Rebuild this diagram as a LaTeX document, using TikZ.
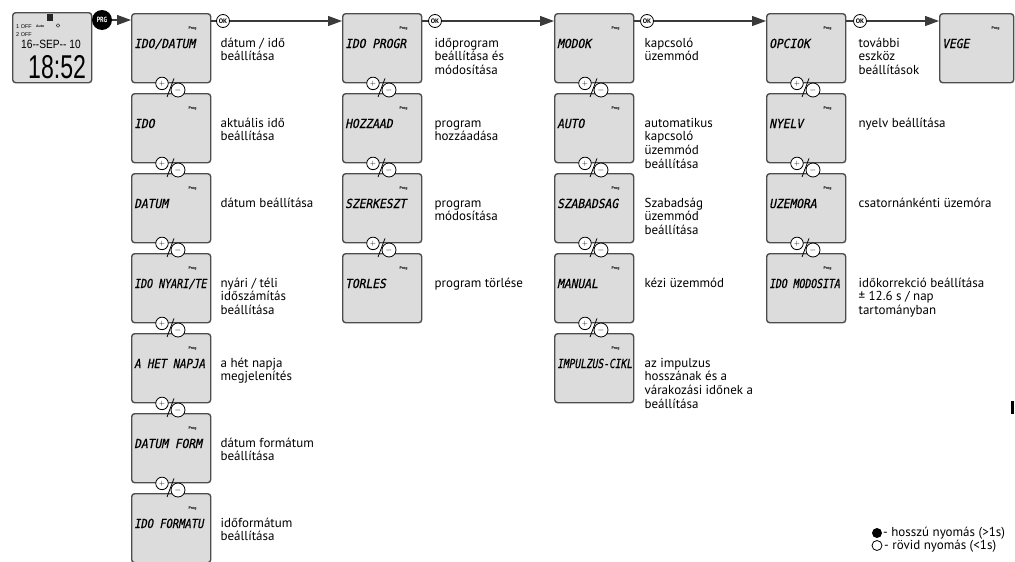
\documentclass[tikz,border=0pt]{standalone}
\usepackage{fontspec}
\setmainfont{PT Sans}
\newfontfamily\lcdfont[FakeSlant=0.2,FakeStretch=0.9,FakeBold=0.6]{DejaVu Sans Mono}
\newfontfamily\dispfont{Liberation Sans}
\usetikzlibrary{arrows.meta,calc}
\definecolor{boxfill}{HTML}{DCDCDC}
\definecolor{boxline}{HTML}{4D4D4D}
\definecolor{linec}{HTML}{3A3A3A}
\newcommand\descfont{\fontsize{13}{13.7}\selectfont}
\newcommand\lblfont{\lcdfont\fontsize{12.5}{12.5}\selectfont}
\newcommand\scrbox[6]{%
  \node[scr] (#1) at (#2,#3) {};
  \node[lbl] (#1-l) at ($(#1.north west)+(3,35)$) {#4};
  \node[progt] (#1-p) at ($(#1.north east)+(-23,16)$) {Prog};
  \node[desc] (#1-d) at ($(#1.north east)+(#5,24.5)$) {\strut #6};
}
\newcommand\pmlink[2]{%
  \node[plusc] (#1-plus) at ($(#1.south west)+(31,0)$) {$+$};
  \node[minusc] (#1-minus) at ($(#2.north west)+(47,-3)$) {$-$};
  \draw[slash] ($(#2.north west)+(36,4)$) -- ($(#1.south west)+(43,-5)$);
}
\begin{document}
\begin{tikzpicture}[x=1pt,y=-1pt,line join=round,
  scr/.style={draw=boxline, line width=1.4pt, fill=boxfill, rounded corners=3pt,
    minimum width=79pt, minimum height=69pt, inner sep=0pt, anchor=north west},
  lbl/.style={font=\lblfont, anchor=base west, inner sep=0pt},
  progt/.style={font=\bfseries\fontsize{4}{4}\selectfont, anchor=base west, inner sep=0pt},
  desc/.style={font=\descfont, anchor=north west, align=left, inner sep=0pt},
  okc/.style={circle, draw=black, line width=0.8pt, fill=white, minimum size=13pt,
    inner sep=0pt, font=\bfseries\fontsize{6.5}{6.5}\selectfont},
  plusc/.style={circle, draw=black, line width=0.8pt, fill=white, minimum size=12.5pt,
    inner sep=0pt, font=\fontsize{7}{7}\selectfont},
  minusc/.style={circle, draw=black, line width=0.8pt, fill=white, minimum size=14pt,
    inner sep=0pt, font=\fontsize{8}{8}\selectfont},
  slash/.style={draw=black, line width=0.8pt},
  ln/.style={draw=linec, line width=1.2pt},
  arr/.style={draw=linec, line width=1.2pt, -{Triangle[length=14pt,width=10pt]}, color=linec},
  lcdtxt/.style={inner sep=0pt, anchor=base west}
]
\useasboundingbox (0,0) rectangle (1015,562);

% ---------- display ----------
\node[scr, minimum width=79pt, minimum height=70pt] (disp) at (12,12) {};
\fill[black!85] (47,14) rectangle (53,21);
\node[lcdtxt, font=\dispfont\fontsize{5.5}{5.5}\selectfont] (d1) at (16,28) {1 OFF};
\node[lcdtxt, font=\dispfont\bfseries\fontsize{3.5}{3.5}\selectfont] (d2) at (36,27.5) {Auto};
\draw[line width=0.4pt] (58,25.5) circle (1.8);
\node[lcdtxt, font=\dispfont\fontsize{5.5}{5.5}\selectfont] (d3) at (16,36) {2 OFF};
\node[lcdtxt, font=\dispfont\fontsize{12}{12}\selectfont] (d4) at (21,48.5) {\scalebox{0.85}[1]{16-{}-SEP-{}- 10}};
\node[lcdtxt, font=\dispfont\fontsize{33}{33}\selectfont] (d5) at (28,78) {\scalebox{0.7}[1]{18:52}};

% ---------- PRG ----------
\node[circle, fill=black, minimum size=20pt, inner sep=0pt, text=white,
  font=\bfseries\fontsize{7.5}{7.5}\selectfont] (prg) at (102,20) {\scalebox{0.8}[1]{PRG}};

% ---------- column 1 ----------
\scrbox{b11}{131}{13}{IDO/DATUM}{9}{dátum / idő\\beállítása}
\scrbox{b12}{131}{93}{IDO}{9}{aktuális idő\\beállítása}
\scrbox{b13}{131}{173}{DATUM}{9}{dátum beállítása}
\scrbox{b14}{131}{253}{\scalebox{0.89}[1]{IDO NYARI/TE}}{9}{nyári / téli\\időszámítás\\beállítása}
\scrbox{b15}{131}{333}{\scalebox{0.95}[1]{A HET NAPJA}}{9}{a hét napja\\megjelenítés}
\scrbox{b16}{131}{413}{DATUM FORM}{9}{dátum formátum\\beállítása}
\scrbox{b17}{131}{493}{\scalebox{0.93}[1]{IDO FORMATU}}{9}{időformátum\\beállítása}
\pmlink{b11}{b12}\pmlink{b12}{b13}\pmlink{b13}{b14}\pmlink{b14}{b15}\pmlink{b15}{b16}\pmlink{b16}{b17}

% ---------- column 2 ----------
\scrbox{b21}{342}{13}{IDO PROGR}{12}{időprogram\\beállítása és\\módosítása}
\scrbox{b22}{342}{93}{HOZZAAD}{12}{program\\hozzáadása}
\scrbox{b23}{342}{173}{SZERKESZT}{12}{program\\módosítása}
\scrbox{b24}{342}{253}{TORLES}{12}{program törlése}
\pmlink{b21}{b22}\pmlink{b22}{b23}\pmlink{b23}{b24}

% ---------- column 3 ----------
\scrbox{b31}{554}{13}{MODOK}{10}{kapcsoló\\üzemmód}
\scrbox{b32}{554}{93}{AUTO}{10}{automatikus\\kapcsoló\\üzemmód\\beállítása}
\scrbox{b33}{554}{173}{SZABADSAG}{10}{Szabadság\\üzemmód\\beállítása}
\scrbox{b34}{554}{253}{MANUAL}{10}{kézi üzemmód}
\scrbox{b35}{554}{333}{\scalebox{0.85}[1]{IMPULZUS-CIKL}}{10}{az impulzus\\hosszának és a\\várakozási időnek a\\beállítása}
\pmlink{b31}{b32}\pmlink{b32}{b33}\pmlink{b33}{b34}\pmlink{b34}{b35}

% ---------- column 4 ----------
\scrbox{b41}{766}{13}{OPCIOK}{12}{további\\eszköz\\beállítások}
\scrbox{b42}{766}{93}{NYELV}{12}{nyelv beállítása}
\scrbox{b43}{766}{173}{UZEMORA}{12}{csatornánkénti üzemóra}
\scrbox{b44}{766}{253}{\scalebox{0.87}[1]{IDO MODOSITA}}{12}{időkorrekció beállítása\\± 12.6 s / nap\\tartományban}
\pmlink{b41}{b42}\pmlink{b42}{b43}\pmlink{b43}{b44}

% ---------- end box ----------
\node[scr, minimum width=74pt] (b5) at (939,13) {};
\node[lbl] (b5-l) at ($(b5.north west)+(3,35)$) {VEGE};
\node[progt] (b5-p) at ($(b5.north east)+(-23,16)$) {Prog};

% ---------- main flow ----------
\draw[arr] (prg) -- (prg -| b11.west);
\node[okc] (ok1) at (223,21) {OK};
\node[okc] (ok2) at (435,21) {OK};
\node[okc] (ok3) at (647,21) {OK};
\node[okc] (ok4) at (860,21) {OK};
\draw[ln] (b11.east |- ok1) -- (ok1);
\draw[arr] (ok1) -- (ok1 -| b21.west);
\draw[ln] (b21.east |- ok2) -- (ok2);
\draw[arr] (ok2) -- (ok2 -| b31.west);
\draw[ln] (b31.east |- ok3) -- (ok3);
\draw[arr] (ok3) -- (ok3 -| b41.west);
\draw[ln] (b41.east |- ok4) -- (ok4);
\draw[arr] (ok4) -- (ok4 -| b5.west);

% ---------- legend ----------
\node[circle, fill=black, minimum size=10pt, inner sep=0pt] (lg1) at (877,533) {};
\node[font=\descfont, anchor=west, inner sep=0pt] (lg1t) at (883,533) {- hosszú nyomás (>1s)};
\node[circle, draw=black, line width=0.8pt, fill=white, minimum size=10pt, inner sep=0pt] (lg2) at (877,545.5) {};
\node[font=\descfont, anchor=west, inner sep=0pt] (lg2t) at (884,546) {- rövid nyomás (<1s)};

% small mark at right edge
\fill (1011,401) rectangle (1013.5,414);
\end{tikzpicture}
\end{document}
